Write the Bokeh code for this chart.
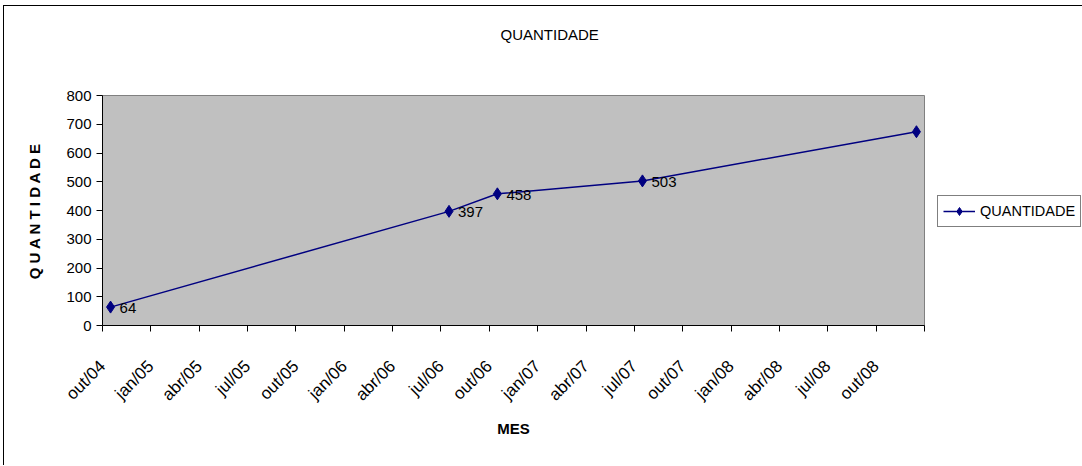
import math
from bokeh.plotting import figure
from bokeh.models import FixedTicker, Legend, LegendItem, ColumnDataSource
from bokeh.core.properties import value
from bokeh.embed import file_html
from bokeh.resources import INLINE

# ---- data ----
mes = ["2004-10", "2006-07", "2006-10", "2007-07", "2008-12"]
quantidade = [64, 397, 458, 503, 674]
rotulos = [str(v) for v in quantidade]
tick_labels = ["out/04", "jan/05", "abr/05", "jul/05", "out/05", "jan/06", "abr/06",
               "jul/06", "out/06", "jan/07", "abr/07", "jul/07", "out/07", "jan/08",
               "abr/08", "jul/08", "out/08"]
y_ticks = [0, 100, 200, 300, 400, 500, 600, 700, 800]

FONT = "Liberation Sans"


def month_pos(s):
    yy, mm = map(int, s.split("-"))
    return (yy - 2004) * 12 + (mm - 10) + 0.5  # centre of the month, months since out/04


xs = [month_pos(s) for s in mes]
n_months = 3 * len(tick_labels)  # axis ends at jan/09
src = ColumnDataSource(dict(x=xs, y=quantidade, lab=rotulos))

p = figure(frame_width=822, frame_height=230,
           min_border_left=98, min_border_top=89, min_border_right=157, min_border_bottom=140,
           x_range=(0, n_months), y_range=(0, 800),
           output_backend="svg", toolbar_location=None)
p.styles = {"border-left": "1px solid black", "border-top": "1px solid black",
            "margin-left": "3px", "margin-top": "5px"}

# trailing blank lines lift the title towards the top of the chart area
p.title.text = "QUANTIDADE\n\n\n"
p.title.align = "left"
p.title.offset = 398
p.title.vertical_align = "top"
p.title.standoff = 0
p.title.text_font = FONT
p.title.text_font_size = "15px"
p.title.text_font_style = "normal"
p.title.text_color = "black"

p.background_fill_color = "#C0C0C0"
p.border_fill_color = "white"
p.outline_line_color = "#808080"
p.xgrid.visible = False
p.ygrid.visible = False

# x axis
xt = [3 * i for i in range(len(tick_labels) + 1)]
p.xaxis.ticker = FixedTicker(ticks=xt)
overrides = {3 * i: lab for i, lab in enumerate(tick_labels)}
overrides[n_months] = ""
p.xaxis.major_label_overrides = overrides
p.xaxis.major_label_orientation = math.pi / 4
p.xaxis.axis_label = "MES"

# y axis
p.yaxis.ticker = FixedTicker(ticks=y_ticks)
p.yaxis.axis_label = "Q U A N T I D A D E"

for ax in (p.xaxis[0], p.yaxis[0]):
    ax.axis_line_color = "black"
    ax.major_tick_line_color = "black"
    ax.major_tick_out = 6
    ax.major_tick_in = 0
    ax.minor_tick_line_color = None
    ax.major_label_text_font = FONT
    ax.major_label_text_font_size = "15px"
    ax.major_label_text_color = "black"
    ax.major_label_standoff = 5
    ax.axis_label_text_font = FONT
    ax.axis_label_text_font_size = "15px"
    ax.axis_label_text_font_style = "bold"
    ax.axis_label_text_color = "black"

p.xaxis.major_label_text_font_size = "17px"
p.xaxis.major_label_standoff = 32
p.xaxis.axis_label_standoff = 6
p.yaxis.axis_label_standoff = 20

ln = p.line("x", "y", source=src, line_color="#000080", line_width=1.5)
sc = p.scatter("x", "y", source=src, marker="diamond", size=12,
               fill_color="#000080", line_color="#000080")
p.text("x", "y", text="lab", source=src, x_offset=9, y_offset=1,
       text_baseline="middle", text_align="left",
       text_font=value(FONT), text_font_size="15px", text_color="black")

legend = Legend(items=[LegendItem(label="QUANTIDADE", renderers=[ln, sc])],
                location=(13, 98))
legend.border_line_color = "black"
legend.border_line_width = 1
legend.background_fill_color = "white"
legend.background_fill_alpha = 1
legend.padding = 5
legend.margin = 0
legend.glyph_width = 32
legend.label_standoff = 5
legend.label_text_font = FONT
legend.label_text_font_size = "14.5px"
legend.label_text_color = "black"
p.add_layout(legend, "right")

open("out.html", "w").write(file_html(p, INLINE))
